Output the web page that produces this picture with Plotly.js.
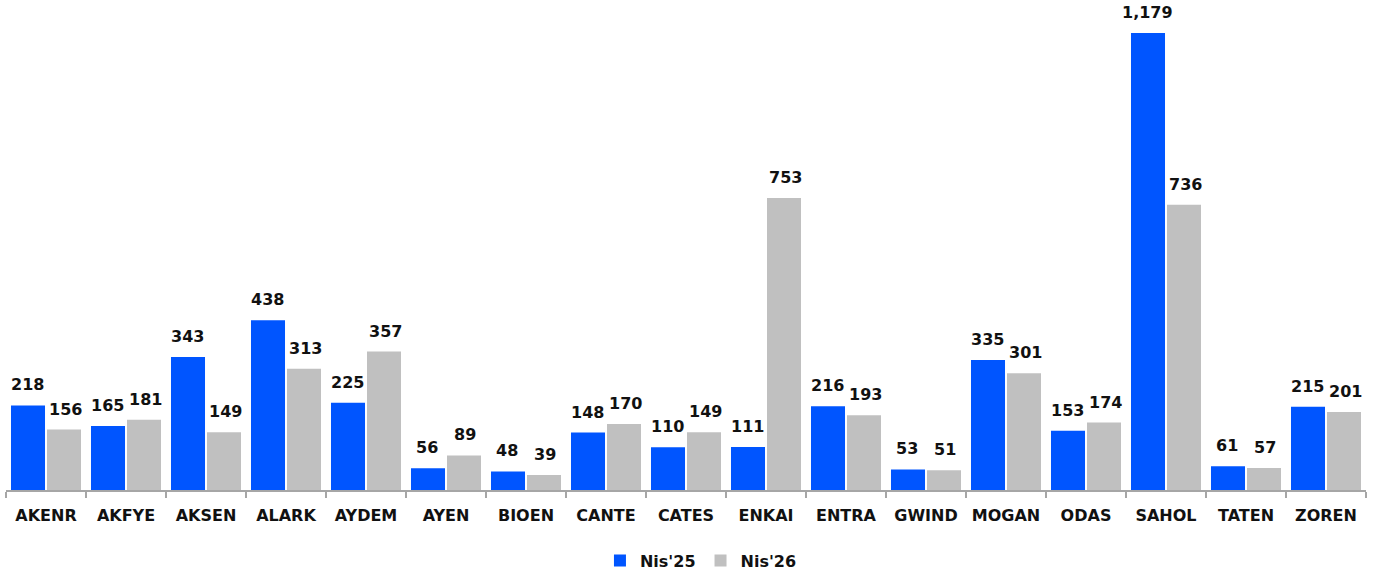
<!DOCTYPE html>
<html>
<head>
<meta charset="utf-8">
<script src="https://cdn.plot.ly/plotly-3.0.1.min.js"></script>
<style>html,body{margin:0;padding:0;background:#fff;}#chart{width:1381px;height:578px;}</style>
</head>
<body>
<div id="chart"></div>
<script>
const categories = ["AKENR","AKFYE","AKSEN","ALARK","AYDEM","AYEN","BIOEN","CANTE","CATES","ENKAI","ENTRA","GWIND","MOGAN","ODAS","SAHOL","TATEN","ZOREN"];
const nis25 = [218,165,343,438,225,56,48,148,110,111,216,53,335,153,1179,61,215];
const nis26 = [156,181,149,313,357,89,39,170,149,753,193,51,301,174,736,57,201];
const seriesNames = ["Nis'25","Nis'26"];

const FONT = "DejaVu Sans, Verdana, sans-serif";
const BLUE = "#0055ff";
const GREY = "#c0c0c0";

const traces = [
  {type:"bar", name:seriesNames[0], x:categories, y:nis25, marker:{color:BLUE}},
  {type:"bar", name:seriesNames[1], x:categories, y:nis26, marker:{color:GREY}}
];

const fmt = v => v.toLocaleString("en-US");
const annotations = [];
categories.forEach((c,i)=>{
  annotations.push({x:c, y:nis25[i], xref:"x", yref:"y", text:"<b>"+fmt(nis25[i])+"</b>", showarrow:false, yanchor:"bottom", xshift:-19, yshift:9, font:{family:FONT,size:16,color:"#111"}});
  annotations.push({x:c, y:nis26[i], xref:"x", yref:"y", text:"<b>"+fmt(nis26[i])+"</b>", showarrow:false, yanchor:"bottom", xshift:19, yshift:9, font:{family:FONT,size:16,color:"#111"}});
});

const layout = {
  width:1381, height:578,
  margin:{l:6, r:15, t:10, b:88, autoexpand:false},
  paper_bgcolor:"#fff", plot_bgcolor:"#fff",
  barmode:"group", bargap:0.1, bargroupgap:0.055,
  font:{family:FONT, size:16, color:"#111"},
  xaxis:{
    type:"category", showline:true, linecolor:"#a6a6a6", linewidth:1.5,
    ticks:"outside", tickson:"boundaries", ticklen:6, tickcolor:"#a6a6a6", tickwidth:1.5,
    ticklabelstandoff:10, automargin:false,
    tickfont:{family:FONT, size:16, color:"#111", weight:"bold"},
    showgrid:false, zeroline:false
  },
  yaxis:{range:[0,1238], visible:false, showgrid:false, zeroline:false},
  showlegend:true,
  legend:{orientation:"h", x:0.511, xanchor:"center", yref:"container", y:0.03, yanchor:"middle",
    font:{family:FONT, size:16, color:"#111", weight:"bold"}, itemwidth:30},
  annotations:annotations
};

Plotly.newPlot("chart", traces, layout, {displayModeBar:false, staticPlot:true});
</script>
</body>
</html>
